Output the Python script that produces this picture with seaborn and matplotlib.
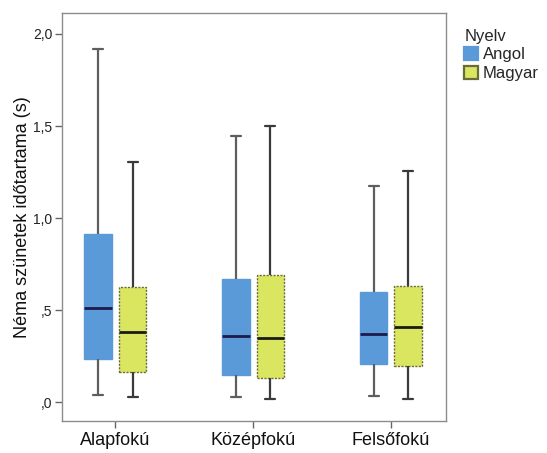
import numpy as np
import pandas as pd
import matplotlib
matplotlib.use("Agg")
import matplotlib.pyplot as plt
import seaborn as sns

# Five-number summaries of silent pause duration (s) per proficiency level and language
levels = ["Alapfokú", "Középfokú", "Felsőfokú"]
languages = ["Angol", "Magyar"]

angol_min = [0.038, 0.026, 0.033]
angol_q1 = [0.234, 0.147, 0.207]
angol_median = [0.509, 0.357, 0.370]
angol_q3 = [0.911, 0.668, 0.598]
angol_max = [1.917, 1.447, 1.172]

magyar_min = [0.026, 0.016, 0.018]
magyar_q1 = [0.165, 0.130, 0.196]
magyar_median = [0.379, 0.346, 0.406]
magyar_q3 = [0.625, 0.689, 0.633]
magyar_max = [1.306, 1.502, 1.257]

y_ticks = [0.0, 0.5, 1.0, 1.5, 2.0]
y_tick_labels = [",0", ",5", "1,0", "1,5", "2,0"]

summaries = {
    "Angol": (angol_min, angol_q1, angol_median, angol_q3, angol_max),
    "Magyar": (magyar_min, magyar_q1, magyar_median, magyar_q3, magyar_max),
}

rows = []
for lang, stats in summaries.items():
    for i, level in enumerate(levels):
        for s in stats:
            rows.append({"Szint": level, "Nyelv": lang, "Idő": s[i]})
df = pd.DataFrame(rows)

sns.set_theme(style="white")
plt.rcParams["font.family"] = ["Liberation Sans", "DejaVu Sans"]

fig = plt.figure(figsize=(5.47, 4.53), dpi=100)
ax = fig.add_axes([0.1133, 0.0706, 0.7021, 0.9007])

palette = {"Angol": "#5a9ad9", "Magyar": "#dbe660"}
sns.boxplot(
    data=df, x="Szint", y="Idő", hue="Nyelv", order=levels, hue_order=languages,
    palette=palette, saturation=1, width=0.5, gap=0.2, whis=(0, 100),
    showfliers=False, linewidth=1.6, ax=ax,
)

edge_colors = {"Angol": "#5a9ad9", "Magyar": "#6b6b3a"}
whisker_colors = {"Angol": "#5e5e5e", "Magyar": "#3a3a3a"}
median_colors = {"Angol": "#1e1a4a", "Magyar": "#1a1a1a"}
cap_half = 0.037
for lang, cont in zip(languages, ax.containers):
    for box in cont.boxes:
        box.set_edgecolor(edge_colors[lang])
        box.set_linewidth(1.0)
        if lang == "Magyar":
            box.set_linestyle((0, (1.5, 1)))
    for med in cont.medians:
        med.set_color(median_colors[lang])
        med.set_linewidth(2.0)
    for w in cont.whiskers:
        w.set_color(whisker_colors[lang])
        w.set_linewidth(1.6)
    for c in cont.caps:
        c.set_color(whisker_colors[lang])
        c.set_linewidth(1.6)
        xd = np.asarray(c.get_xdata(), dtype=float)
        mid = xd.mean()
        c.set_xdata([mid - cap_half, mid + cap_half])

ax.set_xlim(-0.388, 2.4)
ax.set_ylim(-0.103, 2.114)
ax.set_yticks(y_ticks)
ax.set_yticklabels(y_tick_labels, fontsize=10, color="#222222")
ax.tick_params(axis="x", labelsize=13)
ax.tick_params(axis="both", which="major", direction="out", length=5, width=1,
               color="#666666", bottom=True, left=True, pad=2)
ax.tick_params(axis="x", labelcolor="#111111", pad=3)
ax.set_xlabel("")
ax.set_ylabel("Néma szünetek időtartama (s)", fontsize=13, color="#111111", labelpad=1)

for side in ["left", "right", "top", "bottom"]:
    ax.spines[side].set_visible(True)
    ax.spines[side].set_color("#8c8c8c")
    ax.spines[side].set_linewidth(1.0)

sns.move_legend(
    ax, "upper left", bbox_to_anchor=(1.03, 0.978), frameon=False, title="Nyelv",
    fontsize=12, title_fontsize=12, handlelength=0.85, handleheight=0.85,
    handletextpad=0.25, labelspacing=0.2, borderaxespad=0.0,
)
leg = ax.get_legend()
leg._legend_box.align = "left"
for h, lang in zip(leg.legend_handles, languages):
    h.set_edgecolor(edge_colors[lang])

fig.savefig("out.png", dpi=100)
